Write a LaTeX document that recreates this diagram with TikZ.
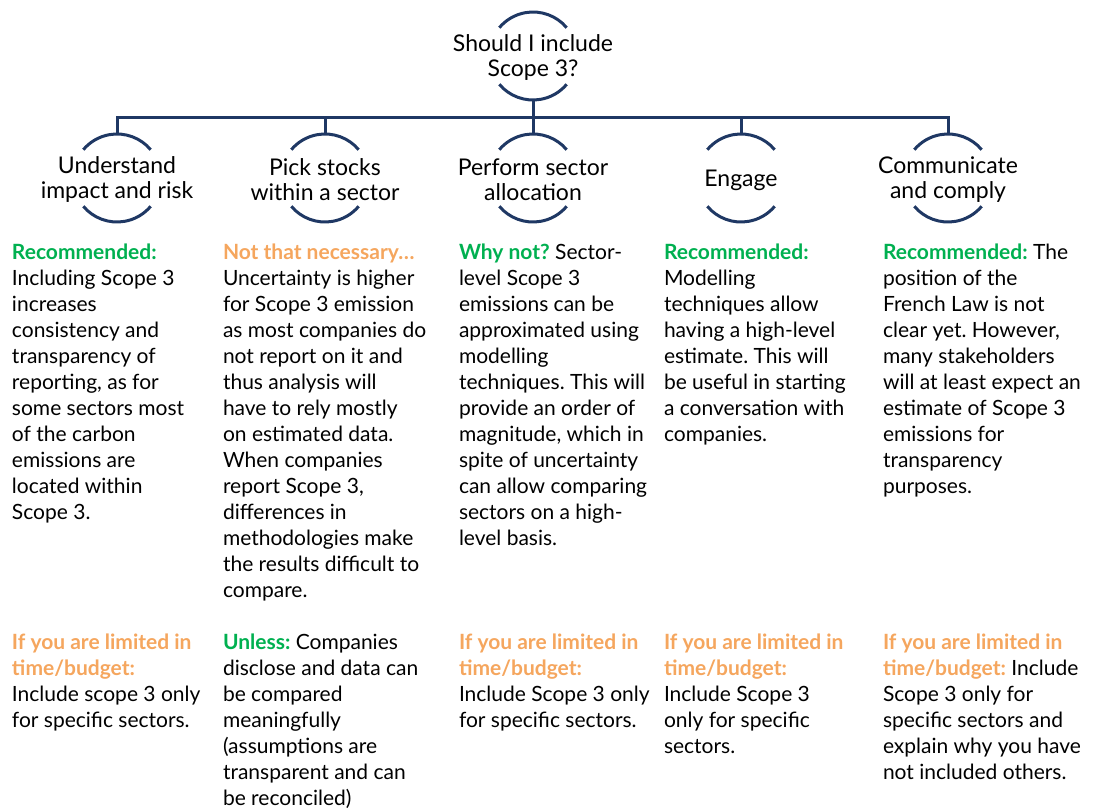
\documentclass[tikz,border=0pt]{standalone}
\usepackage{fontspec}
\setmainfont{Lato}
\frenchspacing
\definecolor{navy}{HTML}{1F3864}
\definecolor{recgreen}{HTML}{00B050}
\definecolor{warnorange}{HTML}{F5A65E}
\begin{document}
\begin{tikzpicture}[x=1pt,y=1pt,
  arcline/.style={draw=navy, line width=3pt},
  conn/.style={draw=navy, line width=3pt},
  ring/.style={circle, minimum size=88pt, inner sep=0pt, outer sep=0pt},
  ringtext/.style={inner sep=0pt, align=center, yshift=-2pt, font=\fontsize{23}{25}\selectfont\frenchspacing},
  body/.style={anchor=north west, inner sep=0pt, outer sep=0pt, align=left, font=\fontsize{21}{26}\selectfont\frenchspacing},
]
\useasboundingbox (0,0) rectangle (1093,-811);
\newcommand{\G}[1]{\textcolor{recgreen}{\bfseries #1}}
\newcommand{\Or}[1]{\textcolor{warnorange}{\bfseries #1}}
\newcommand{\rings}[1]{%
  \draw[arcline] (#1.40) arc[start angle=40,end angle=140,radius=44];
  \draw[arcline] (#1.220) arc[start angle=220,end angle=320,radius=44];}

\node[ring] (root) at (533,-56) {};
\node[ring] (c1) at (117,-178) {};
\node[ring] (c2) at (325,-178) {};
\node[ring] (c3) at (533,-178) {};
\node[ring] (c4) at (741,-178) {};
\node[ring] (c5) at (948,-178) {};
\node[ringtext] (l0) at (root) {Should I include\\Scope 3?};
\node[ringtext] (l1) at (c1) {Understand\\impact and risk};
\node[ringtext] (l2) at (c2) {Pick stocks\\within a sector};
\node[ringtext] (l3) at (c3) {Perform sector\\allocation};
\node[ringtext] (l4) at (c4) {Engage};
\node[ringtext] (l5) at (c5) {Communicate\\and comply};
\rings{root}\rings{c1}\rings{c2}\rings{c3}\rings{c4}\rings{c5}

\coordinate (bus) at (533,-117);
\draw[conn] (root.south) -- (c3.north);
\draw[conn] (c1.north) -- (c1.north |- bus) -- (c5.north |- bus) -- (c5.north);
\draw[conn] (c2.north) -- (c2.north |- bus);
\draw[conn] (c4.north) -- (c4.north |- bus);

\node[body] (t1) at (12,-244) {\G{Recommended:}\\Including Scope 3\\increases\\consistency and\\transparency of\\reporting, as for\\some sectors most\\of the carbon\\emissions are\\located within\\Scope 3.};
\node[body] (t2) at (223,-244) {\Or{Not that necessary\dots}\\Uncertainty is higher\\for Scope 3 emission\\as most companies do\\not report on it and\\thus analysis will\\have to rely mostly\\on estimated data.\\When companies\\report Scope 3,\\differences in\\methodologies make\\the results difficult to\\compare.};
\node[body] (t3) at (459,-244) {\G{Why not?} Sector-\\level Scope 3\\emissions can be\\approximated using\\modelling\\techniques. This will\\provide an order of\\magnitude, which in\\spite of uncertainty\\can allow comparing\\sectors on a high-\\level basis.};
\node[body] (t4) at (664,-244) {\G{Recommended:}\\Modelling\\techniques allow\\having a high-level\\estimate. This will\\be useful in starting\\a conversation with\\companies.};
\node[body] (t5) at (883,-244) {\G{Recommended:} The\\position of the\\French Law is not\\clear yet. However,\\many stakeholders\\will at least expect an\\estimate of Scope 3\\emissions for\\transparency\\purposes.};

\node[body] (b1) at (12,-634) {\Or{If you are limited in}\\\Or{time/budget:}\\Include scope 3 only\\for specific sectors.};
\node[body] (b2) at (223,-634) {\G{Unless:} Companies\\disclose and data can\\be compared\\meaningfully\\(assumptions are\\transparent and can\\be reconciled)};
\node[body] (b3) at (459,-634) {\Or{If you are limited in}\\\Or{time/budget:}\\Include Scope 3 only\\for specific sectors.};
\node[body] (b4) at (664,-634) {\Or{If you are limited in}\\\Or{time/budget:}\\Include Scope 3\\only for specific\\sectors.};
\node[body] (b5) at (883,-634) {\Or{If you are limited in}\\\Or{time/budget:} Include\\Scope 3 only for\\specific sectors and\\explain why you have\\not included others.};
\end{tikzpicture}
\end{document}
